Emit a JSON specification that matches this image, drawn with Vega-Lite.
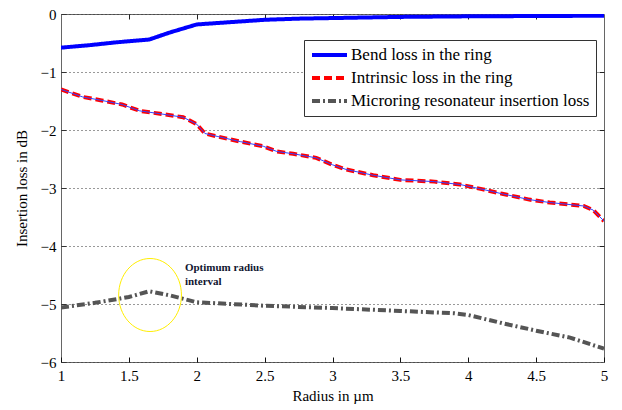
{
  "$schema": "https://vega.github.io/schema/vega-lite/v6.json",
  "width": 543,
  "height": 348,
  "autosize": "none",
  "padding": {"left": 61, "top": 14, "right": 18, "bottom": 48},
  "background": "white",
  "config": {
    "view": {"stroke": "#666", "strokeWidth": 1},
    "font": "Liberation Serif",
    "axis": {"labelFlush": false, "labelOverlap": false}
  },
  "data": {
    "values": [
      {"x": 1.0, "y": -0.58, "series": "Bend loss in the ring"},
      {"x": 1.2, "y": -0.54, "series": "Bend loss in the ring"},
      {"x": 1.4, "y": -0.49, "series": "Bend loss in the ring"},
      {"x": 1.65, "y": -0.44, "series": "Bend loss in the ring"},
      {"x": 1.8, "y": -0.32, "series": "Bend loss in the ring"},
      {"x": 2.0, "y": -0.18, "series": "Bend loss in the ring"},
      {"x": 2.25, "y": -0.14, "series": "Bend loss in the ring"},
      {"x": 2.5, "y": -0.1, "series": "Bend loss in the ring"},
      {"x": 2.75, "y": -0.08, "series": "Bend loss in the ring"},
      {"x": 3.0, "y": -0.07, "series": "Bend loss in the ring"},
      {"x": 3.5, "y": -0.05, "series": "Bend loss in the ring"},
      {"x": 4.0, "y": -0.04, "series": "Bend loss in the ring"},
      {"x": 4.5, "y": -0.035, "series": "Bend loss in the ring"},
      {"x": 5.0, "y": -0.03, "series": "Bend loss in the ring"},
      {"x": 1.0, "y": -1.3, "series": "Intrinsic loss in the ring"},
      {"x": 1.16, "y": -1.43, "series": "Intrinsic loss in the ring"},
      {"x": 1.3, "y": -1.49, "series": "Intrinsic loss in the ring"},
      {"x": 1.45, "y": -1.56, "series": "Intrinsic loss in the ring"},
      {"x": 1.58, "y": -1.67, "series": "Intrinsic loss in the ring"},
      {"x": 1.73, "y": -1.72, "series": "Intrinsic loss in the ring"},
      {"x": 1.9, "y": -1.78, "series": "Intrinsic loss in the ring"},
      {"x": 2.0, "y": -1.9, "series": "Intrinsic loss in the ring"},
      {"x": 2.06, "y": -2.06, "series": "Intrinsic loss in the ring"},
      {"x": 2.15, "y": -2.11, "series": "Intrinsic loss in the ring"},
      {"x": 2.32, "y": -2.2, "series": "Intrinsic loss in the ring"},
      {"x": 2.49, "y": -2.28, "series": "Intrinsic loss in the ring"},
      {"x": 2.59, "y": -2.37, "series": "Intrinsic loss in the ring"},
      {"x": 2.71, "y": -2.41, "series": "Intrinsic loss in the ring"},
      {"x": 2.88, "y": -2.48, "series": "Intrinsic loss in the ring"},
      {"x": 3.0, "y": -2.6, "series": "Intrinsic loss in the ring"},
      {"x": 3.1, "y": -2.68, "series": "Intrinsic loss in the ring"},
      {"x": 3.3, "y": -2.78, "series": "Intrinsic loss in the ring"},
      {"x": 3.5, "y": -2.86, "series": "Intrinsic loss in the ring"},
      {"x": 3.75, "y": -2.89, "series": "Intrinsic loss in the ring"},
      {"x": 3.94, "y": -2.94, "series": "Intrinsic loss in the ring"},
      {"x": 4.1, "y": -3.02, "series": "Intrinsic loss in the ring"},
      {"x": 4.25, "y": -3.1, "series": "Intrinsic loss in the ring"},
      {"x": 4.45, "y": -3.2, "series": "Intrinsic loss in the ring"},
      {"x": 4.6, "y": -3.25, "series": "Intrinsic loss in the ring"},
      {"x": 4.85, "y": -3.31, "series": "Intrinsic loss in the ring"},
      {"x": 4.92, "y": -3.38, "series": "Intrinsic loss in the ring"},
      {"x": 5.0, "y": -3.57, "series": "Intrinsic loss in the ring"},
      {"x": 1.0, "y": -5.06, "series": "Microring resonateur insertion loss"},
      {"x": 1.25, "y": -4.98, "series": "Microring resonateur insertion loss"},
      {"x": 1.5, "y": -4.88, "series": "Microring resonateur insertion loss"},
      {"x": 1.65, "y": -4.78, "series": "Microring resonateur insertion loss"},
      {"x": 1.8, "y": -4.85, "series": "Microring resonateur insertion loss"},
      {"x": 2.0, "y": -4.97, "series": "Microring resonateur insertion loss"},
      {"x": 2.25, "y": -5.0, "series": "Microring resonateur insertion loss"},
      {"x": 2.5, "y": -5.03, "series": "Microring resonateur insertion loss"},
      {"x": 3.0, "y": -5.07, "series": "Microring resonateur insertion loss"},
      {"x": 3.5, "y": -5.12, "series": "Microring resonateur insertion loss"},
      {"x": 3.9, "y": -5.16, "series": "Microring resonateur insertion loss"},
      {"x": 4.0, "y": -5.19, "series": "Microring resonateur insertion loss"},
      {"x": 4.25, "y": -5.33, "series": "Microring resonateur insertion loss"},
      {"x": 4.5, "y": -5.46, "series": "Microring resonateur insertion loss"},
      {"x": 4.75, "y": -5.58, "series": "Microring resonateur insertion loss"},
      {"x": 5.0, "y": -5.77, "series": "Microring resonateur insertion loss"}
    ]
  },
  "layer": [
    {
      "mark": {"type": "line", "strokeWidth": 4, "clip": true},
      "encoding": {
        "x": {
          "field": "x", "type": "quantitative",
          "scale": {"domain": [1, 5], "nice": false},
          "axis": {
            "title": "Radius in µm", "titleFont": "Liberation Serif", "titleFontSize": 15, "titleFontWeight": "normal", "titleColor": "#000", "titlePadding": 5,
            "values": [1, 1.5, 2, 2.5, 3, 3.5, 4, 4.5, 5], "format": "~g",
            "labelFont": "Liberation Serif", "labelFontSize": 15, "labelColor": "#000", "labelPadding": 6,
            "offset": -5, "domain": false, "tickSize": 5, "tickWidth": 1, "tickColor": "#111", "grid": false
          }
        },
        "y": {
          "field": "y", "type": "quantitative",
          "scale": {"domain": [-6, 0], "nice": false},
          "axis": {
            "title": "Insertion loss in dB", "titleFont": "Liberation Serif", "titleFontSize": 15, "titleFontWeight": "normal", "titleColor": "#000", "titlePadding": 11,
            "values": [-6, -5, -4, -3, -2, -1, 0],
            "labelFont": "Liberation Serif", "labelFontSize": 15, "labelColor": "#000", "labelPadding": 5,
            "offset": -5, "domain": false, "tickSize": 5, "tickWidth": 1, "tickColor": "#333",
            "grid": true, "gridColor": "#333", "gridDash": [1, 3], "gridWidth": 1
          }
        },
        "color": {
          "field": "series", "type": "nominal",
          "scale": {
            "domain": ["Bend loss in the ring", "Intrinsic loss in the ring", "Microring resonateur insertion loss"],
            "range": ["#0000ff", "#ff0000", "#555555"]
          },
          "legend": {
            "title": null, "orient": "none", "legendX": 243, "legendY": 26,
            "symbolType": "stroke", "symbolSize": 1225, "symbolStrokeWidth": 4, "clipHeight": 18,
            "labelFont": "Liberation Serif", "labelFontSize": 17, "labelColor": "#000", "labelOffset": 2, "labelLimit": 400,
            "strokeColor": "#333", "fillColor": "#fff", "padding": 6, "rowPadding": 5
          }
        },
        "strokeDash": {
          "field": "series", "type": "nominal",
          "scale": {
            "domain": ["Bend loss in the ring", "Intrinsic loss in the ring", "Microring resonateur insertion loss"],
            "range": [[1, 0], [8, 4], [8, 3, 2, 3]]
          },
          "legend": {
            "title": null, "orient": "none", "legendX": 243, "legendY": 26,
            "symbolType": "stroke", "symbolSize": 1225, "symbolStrokeWidth": 4, "clipHeight": 18,
            "labelFont": "Liberation Serif", "labelFontSize": 17, "labelColor": "#000", "labelOffset": 2, "labelLimit": 400,
            "strokeColor": "#333", "fillColor": "#fff", "padding": 6, "rowPadding": 5
          }
        }
      }
    },
    {
      "transform": [{"filter": "datum.series === 'Intrinsic loss in the ring'"}],
      "mark": {"type": "line", "color": "#3344ff", "strokeWidth": 1},
      "encoding": {
        "x": {
          "field": "x", "type": "quantitative",
          "axis": {"orient": "top", "labels": false, "title": null, "grid": false, "domain": false, "offset": -5, "values": [1.5, 2, 2.5, 3, 3.5, 4, 4.5], "tickSize": 5, "tickWidth": 1, "tickColor": "#222"}
        },
        "y": {
          "field": "y", "type": "quantitative",
          "axis": {"orient": "right", "labels": false, "title": null, "grid": false, "domain": false, "offset": -5, "values": [-5, -4, -3, -2, -1], "tickSize": 5, "tickWidth": 1, "tickColor": "#222"}
        }
      }
    },
    {
      "data": {"values": [{"note": "Optimum radius interval", "x": 1.656, "y": -4.845}]},
      "mark": {"type": "point", "shape": "M-0.86,0A0.86,1,0,1,0,0.86,0A0.86,1,0,1,0,-0.86,0Z", "size": 5329, "stroke": "#ffee00", "strokeWidth": 1, "filled": false, "opacity": 1},
      "encoding": {
        "x": {"field": "x", "type": "quantitative", "axis": null},
        "y": {"field": "y", "type": "quantitative", "axis": null}
      }
    },
    {
      "data": {"values": [{"note": "Optimum radius interval", "x": 1.913, "y": -4.38}]},
      "mark": {"type": "text", "text": ["Optimum radius", "interval"], "align": "left", "baseline": "middle", "font": "Liberation Serif", "fontWeight": "bold", "fontSize": 11, "lineHeight": 14, "color": "#101530"},
      "encoding": {
        "x": {"field": "x", "type": "quantitative", "axis": null},
        "y": {"field": "y", "type": "quantitative", "axis": null}
      }
    }
  ],
  "resolve": {"axis": {"x": "independent", "y": "independent"}}
}
